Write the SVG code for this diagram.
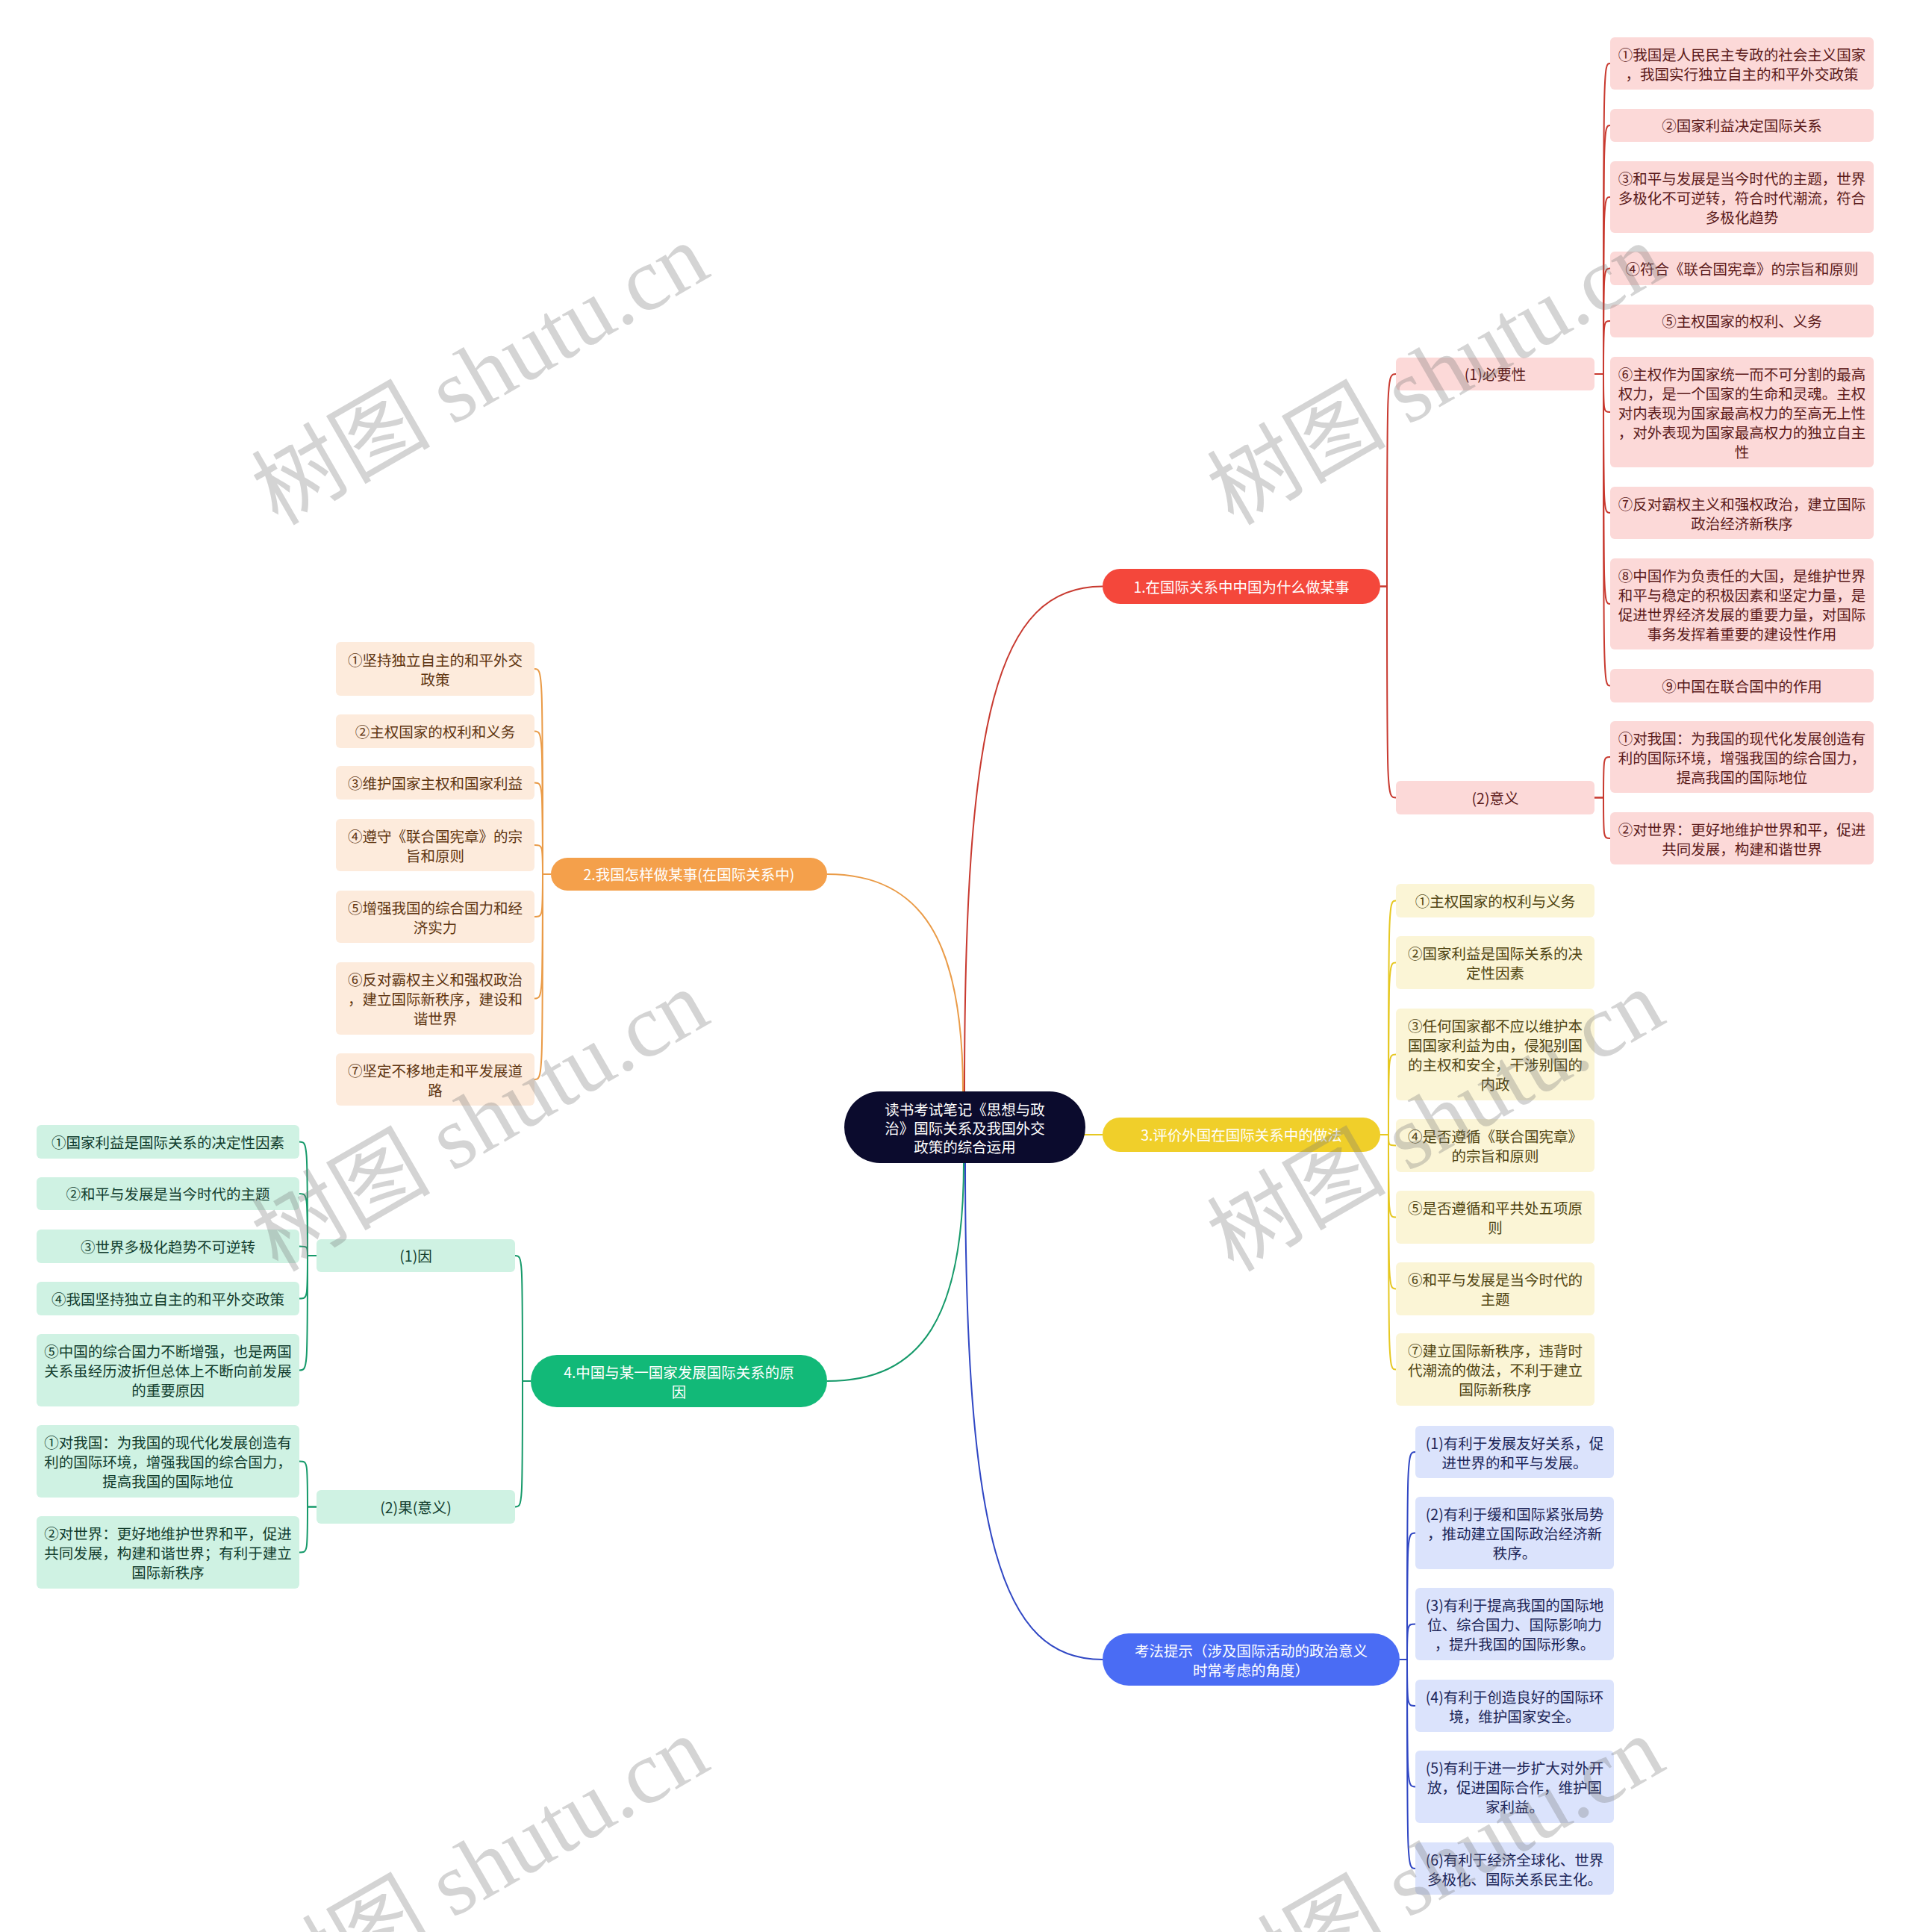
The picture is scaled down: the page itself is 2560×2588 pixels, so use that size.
<svg xmlns="http://www.w3.org/2000/svg" width="2560" height="2588" viewBox="0 0 2560 2588">
<style>
text { font-family: "Noto Sans CJK SC", "Noto Sans", sans-serif; font-size: 19.5px; text-anchor: middle; dominant-baseline: central; }
.conn path { fill: none; stroke-width: 2; }
.cr path { stroke: #c8392f; }
.co path { stroke: #ea9b47; }
.cy path { stroke: #e6c822; }
.cg path { stroke: #169a6a; }
.cb path { stroke: #3047c4; }
.topic text, .root text { fill: #ffffff; }
.pk rect { fill: #fcd9d8; } .pk text { fill: #5b1a1a; }
.or rect { fill: #fdebdc; } .or text { fill: #5e3511; }
.ye rect { fill: #fbf5d6; } .ye text { fill: #4f4412; }
.gr rect { fill: #cff2e3; } .gr text { fill: #123d2e; }
.bl rect { fill: #dbe3fc; } .bl text { fill: #1c2557; }
.wm { font-family: "Liberation Serif", "Noto Sans CJK SC", serif; font-size: 120px; fill: #7a7a7a; fill-opacity: 0.32; text-anchor: start; dominant-baseline: auto; }
</style>
<rect x="0" y="0" width="2560" height="2588" fill="#ffffff"/>

<g id="connectors" class="conn">
  <g class="cr">
    <path d="M1292 1462 C1292 960 1335 785.5 1477 785.5"/>
    <path d="M1849 785.5 H1858 C1858 501 1858 501 1870 501"/>
    <path d="M1849 785.5 H1858 C1858 1068.5 1858 1068.5 1870 1068.5"/>
    <path d="M2136 501 H2148 C2148 85 2148 85 2157 85"/>
    <path d="M2136 501 H2148 C2148 168 2148 168 2157 168"/>
    <path d="M2136 501 H2148 C2148 264 2148 264 2157 264"/>
    <path d="M2136 501 H2148 C2148 359.5 2148 359.5 2157 359.5"/>
    <path d="M2136 501 H2148 C2148 430 2148 430 2157 430"/>
    <path d="M2136 501 H2148 C2148 552 2148 552 2157 552"/>
    <path d="M2136 501 H2148 C2148 687 2148 687 2157 687"/>
    <path d="M2136 501 H2148 C2148 809 2148 809 2157 809"/>
    <path d="M2136 501 H2148 C2148 918.5 2148 918.5 2157 918.5"/>
    <path d="M2136 1068.5 H2148 C2148 1014 2148 1014 2157 1014"/>
    <path d="M2136 1068.5 H2148 C2148 1123 2148 1123 2157 1123"/>
  </g>
  <g class="co">
    <path d="M1290 1462 C1290 1260 1235 1171 1108 1171"/>
    <path d="M738 1171 H727 C727 896 727 896 716 896"/>
    <path d="M738 1171 H727 C727 979.5 727 979.5 716 979.5"/>
    <path d="M738 1171 H727 C727 1048.5 727 1048.5 716 1048.5"/>
    <path d="M738 1171 H727 C727 1132 727 1132 716 1132"/>
    <path d="M738 1171 H727 C727 1228 727 1228 716 1228"/>
    <path d="M738 1171 H727 C727 1337.5 727 1337.5 716 1337.5"/>
    <path d="M738 1171 H727 C727 1446 727 1446 716 1446"/>
  </g>
  <g class="cy">
    <path d="M1450 1520 H1477"/>
    <path d="M1849 1520 H1860 C1860 1206.5 1860 1206.5 1870 1206.5"/>
    <path d="M1849 1520 H1860 C1860 1289.5 1860 1289.5 1870 1289.5"/>
    <path d="M1849 1520 H1860 C1860 1412.5 1860 1412.5 1870 1412.5"/>
    <path d="M1849 1520 H1860 C1860 1534.5 1860 1534.5 1870 1534.5"/>
    <path d="M1849 1520 H1860 C1860 1630.5 1860 1630.5 1870 1630.5"/>
    <path d="M1849 1520 H1860 C1860 1726.5 1860 1726.5 1870 1726.5"/>
    <path d="M1849 1520 H1860 C1860 1834.5 1860 1834.5 1870 1834.5"/>
  </g>
  <g class="cg">
    <path d="M1291 1558 C1291 1765 1235 1850 1108 1850"/>
    <path d="M711 1850 H700 C700 1682 700 1682 690 1682"/>
    <path d="M711 1850 H700 C700 2018.5 700 2018.5 690 2018.5"/>
    <path d="M424 1682 H412 C412 1529.5 412 1529.5 401 1529.5"/>
    <path d="M424 1682 H412 C412 1599 412 1599 401 1599"/>
    <path d="M424 1682 H412 C412 1669.5 412 1669.5 401 1669.5"/>
    <path d="M424 1682 H412 C412 1739.5 412 1739.5 401 1739.5"/>
    <path d="M424 1682 H412 C412 1835.5 412 1835.5 401 1835.5"/>
    <path d="M424 2018.5 H412 C412 1957.5 412 1957.5 401 1957.5"/>
    <path d="M424 2018.5 H412 C412 2079.5 412 2079.5 401 2079.5"/>
  </g>
  <g class="cb">
    <path d="M1293 1558 C1293 2060 1340 2223 1477 2223"/>
    <path d="M1875 2223 H1885 C1885 1945 1885 1945 1896 1945"/>
    <path d="M1875 2223 H1885 C1885 2053.5 1885 2053.5 1896 2053.5"/>
    <path d="M1875 2223 H1885 C1885 2175.5 1885 2175.5 1896 2175.5"/>
    <path d="M1875 2223 H1885 C1885 2285 1885 2285 1896 2285"/>
    <path d="M1875 2223 H1885 C1885 2393.5 1885 2393.5 1896 2393.5"/>
    <path d="M1875 2223 H1885 C1885 2503 1885 2503 1896 2503"/>
  </g>
</g>

<g id="root" class="root">
  <rect x="1131" y="1462" width="323" height="96" rx="48" fill="#0b0b2d"/>
  <text><tspan x="1292.5" y="1485">读书考试笔记《思想与政</tspan><tspan x="1292.5" y="1510">治》国际关系及我国外交</tspan><tspan x="1292.5" y="1535">政策的综合运用</tspan></text>
</g>

<g id="t1" class="topic"><rect x="1477" y="762" width="372" height="47" rx="23.5" fill="#f4473b"/><text x="1663" y="785">1.在国际关系中中国为什么做某事</text></g>
<g id="t2" class="topic"><rect x="738" y="1149" width="370" height="44" rx="22" fill="#f4a04b"/><text x="923" y="1170.5">2.我国怎样做某事(在国际关系中)</text></g>
<g id="t3" class="topic"><rect x="1477" y="1497" width="372" height="46" rx="23" fill="#f0cf2a"/><text x="1663" y="1519.5">3.评价外国在国际关系中的做法</text></g>
<g id="t4" class="topic"><rect x="711" y="1815" width="397" height="70" rx="35" fill="#12b978"/><text><tspan x="909.5" y="1836.5">4.中国与某一国家发展国际关系的原</tspan><tspan x="909.5" y="1862.5">因</tspan></text></g>
<g id="t5" class="topic"><rect x="1477" y="2188" width="398" height="70" rx="35" fill="#4a6cf4"/><text><tspan x="1676" y="2209.5">考法提示（涉及国际活动的政治意义</tspan><tspan x="1676" y="2235.5">时常考虑的角度）</tspan></text></g>

<g id="s1a" class="pk"><rect x="1870" y="479" width="266" height="44" rx="6"/><text x="2003" y="500.5">(1)必要性</text></g>
<g id="s1b" class="pk"><rect x="1870" y="1046" width="266" height="45" rx="6"/><text x="2003" y="1068">(2)意义</text></g>

<g id="p1" class="pk"><rect x="2157" y="50" width="353" height="70" rx="6"/><text><tspan x="2333.5" y="71.5">①我国是人民民主专政的社会主义国家</tspan><tspan x="2333.5" y="97.5">，我国实行独立自主的和平外交政策</tspan></text></g>
<g id="p2" class="pk"><rect x="2157" y="146" width="353" height="44" rx="6"/><text x="2333.5" y="167.5">②国家利益决定国际关系</text></g>
<g id="p3" class="pk"><rect x="2157" y="216" width="353" height="96" rx="6"/><text><tspan x="2333.5" y="237.5">③和平与发展是当今时代的主题，世界</tspan><tspan x="2333.5" y="263.5">多极化不可逆转，符合时代潮流，符合</tspan><tspan x="2333.5" y="289.5">多极化趋势</tspan></text></g>
<g id="p4" class="pk"><rect x="2157" y="337" width="353" height="45" rx="6"/><text x="2333.5" y="359">④符合《联合国宪章》的宗旨和原则</text></g>
<g id="p5" class="pk"><rect x="2157" y="408" width="353" height="44" rx="6"/><text x="2333.5" y="429.5">⑤主权国家的权利、义务</text></g>
<g id="p6" class="pk"><rect x="2157" y="478" width="353" height="148" rx="6"/><text><tspan x="2333.5" y="499.5">⑥主权作为国家统一而不可分割的最高</tspan><tspan x="2333.5" y="525.5">权力，是一个国家的生命和灵魂。主权</tspan><tspan x="2333.5" y="551.5">对内表现为国家最高权力的至高无上性</tspan><tspan x="2333.5" y="577.5">，对外表现为国家最高权力的独立自主</tspan><tspan x="2333.5" y="603.5">性</tspan></text></g>
<g id="p7" class="pk"><rect x="2157" y="652" width="353" height="70" rx="6"/><text><tspan x="2333.5" y="673.5">⑦反对霸权主义和强权政治，建立国际</tspan><tspan x="2333.5" y="699.5">政治经济新秩序</tspan></text></g>
<g id="p8" class="pk"><rect x="2157" y="748" width="353" height="122" rx="6"/><text><tspan x="2333.5" y="769.5">⑧中国作为负责任的大国，是维护世界</tspan><tspan x="2333.5" y="795.5">和平与稳定的积极因素和坚定力量，是</tspan><tspan x="2333.5" y="821.5">促进世界经济发展的重要力量，对国际</tspan><tspan x="2333.5" y="847.5">事务发挥着重要的建设性作用</tspan></text></g>
<g id="p9" class="pk"><rect x="2157" y="896" width="353" height="45" rx="6"/><text x="2333.5" y="918">⑨中国在联合国中的作用</text></g>
<g id="q1" class="pk"><rect x="2157" y="966" width="353" height="96" rx="6"/><text><tspan x="2333.5" y="987.5">①对我国：为我国的现代化发展创造有</tspan><tspan x="2333.5" y="1013.5">利的国际环境，增强我国的综合国力，</tspan><tspan x="2333.5" y="1039.5">提高我国的国际地位</tspan></text></g>
<g id="q2" class="pk"><rect x="2157" y="1088" width="353" height="70" rx="6"/><text><tspan x="2333.5" y="1109.5">②对世界：更好地维护世界和平，促进</tspan><tspan x="2333.5" y="1135.5">共同发展，构建和谐世界</tspan></text></g>

<g id="o1" class="or"><rect x="450" y="860" width="266" height="72" rx="6"/><text><tspan x="583" y="882.5">①坚持独立自主的和平外交</tspan><tspan x="583" y="908.5">政策</tspan></text></g>
<g id="o2" class="or"><rect x="450" y="957" width="266" height="45" rx="6"/><text x="583" y="979">②主权国家的权利和义务</text></g>
<g id="o3" class="or"><rect x="450" y="1026" width="266" height="45" rx="6"/><text x="583" y="1048">③维护国家主权和国家利益</text></g>
<g id="o4" class="or"><rect x="450" y="1097" width="266" height="70" rx="6"/><text><tspan x="583" y="1118.5">④遵守《联合国宪章》的宗</tspan><tspan x="583" y="1144.5">旨和原则</tspan></text></g>
<g id="o5" class="or"><rect x="450" y="1193" width="266" height="70" rx="6"/><text><tspan x="583" y="1214.5">⑤增强我国的综合国力和经</tspan><tspan x="583" y="1240.5">济实力</tspan></text></g>
<g id="o6" class="or"><rect x="450" y="1289" width="266" height="97" rx="6"/><text><tspan x="583" y="1311">⑥反对霸权主义和强权政治</tspan><tspan x="583" y="1337">，建立国际新秩序，建设和</tspan><tspan x="583" y="1363">谐世界</tspan></text></g>
<g id="o7" class="or"><rect x="450" y="1411" width="266" height="70" rx="6"/><text><tspan x="583" y="1432.5">⑦坚定不移地走和平发展道</tspan><tspan x="583" y="1458.5">路</tspan></text></g>

<g id="y1" class="ye"><rect x="1870" y="1184" width="266" height="45" rx="6"/><text x="2003" y="1206">①主权国家的权利与义务</text></g>
<g id="y2" class="ye"><rect x="1870" y="1254" width="266" height="71" rx="6"/><text><tspan x="2003" y="1276">②国家利益是国际关系的决</tspan><tspan x="2003" y="1302">定性因素</tspan></text></g>
<g id="y3" class="ye"><rect x="1870" y="1351" width="266" height="123" rx="6"/><text><tspan x="2003" y="1373">③任何国家都不应以维护本</tspan><tspan x="2003" y="1399">国国家利益为由，侵犯别国</tspan><tspan x="2003" y="1425">的主权和安全，干涉别国的</tspan><tspan x="2003" y="1451">内政</tspan></text></g>
<g id="y4" class="ye"><rect x="1870" y="1499" width="266" height="71" rx="6"/><text><tspan x="2003" y="1521">④是否遵循《联合国宪章》</tspan><tspan x="2003" y="1547">的宗旨和原则</tspan></text></g>
<g id="y5" class="ye"><rect x="1870" y="1595" width="266" height="71" rx="6"/><text><tspan x="2003" y="1617">⑤是否遵循和平共处五项原</tspan><tspan x="2003" y="1643">则</tspan></text></g>
<g id="y6" class="ye"><rect x="1870" y="1691" width="266" height="71" rx="6"/><text><tspan x="2003" y="1713">⑥和平与发展是当今时代的</tspan><tspan x="2003" y="1739">主题</tspan></text></g>
<g id="y7" class="ye"><rect x="1870" y="1786" width="266" height="97" rx="6"/><text><tspan x="2003" y="1808">⑦建立国际新秩序，违背时</tspan><tspan x="2003" y="1834">代潮流的做法，不利于建立</tspan><tspan x="2003" y="1860">国际新秩序</tspan></text></g>

<g id="s4a" class="gr"><rect x="424" y="1660" width="266" height="44" rx="6"/><text x="557" y="1681.5">(1)因</text></g>
<g id="s4b" class="gr"><rect x="424" y="1996" width="266" height="45" rx="6"/><text x="557" y="2018">(2)果(意义)</text></g>

<g id="g1" class="gr"><rect x="49" y="1507" width="352" height="45" rx="6"/><text x="225" y="1529">①国家利益是国际关系的决定性因素</text></g>
<g id="g2" class="gr"><rect x="49" y="1577" width="352" height="44" rx="6"/><text x="225" y="1598.5">②和平与发展是当今时代的主题</text></g>
<g id="g3" class="gr"><rect x="49" y="1647" width="352" height="45" rx="6"/><text x="225" y="1669">③世界多极化趋势不可逆转</text></g>
<g id="g4" class="gr"><rect x="49" y="1717" width="352" height="45" rx="6"/><text x="225" y="1739">④我国坚持独立自主的和平外交政策</text></g>
<g id="g5" class="gr"><rect x="49" y="1787" width="352" height="97" rx="6"/><text><tspan x="225" y="1809">⑤中国的综合国力不断增强，也是两国</tspan><tspan x="225" y="1835">关系虽经历波折但总体上不断向前发展</tspan><tspan x="225" y="1861">的重要原因</tspan></text></g>
<g id="g6" class="gr"><rect x="49" y="1909" width="352" height="97" rx="6"/><text><tspan x="225" y="1931">①对我国：为我国的现代化发展创造有</tspan><tspan x="225" y="1957">利的国际环境，增强我国的综合国力，</tspan><tspan x="225" y="1983">提高我国的国际地位</tspan></text></g>
<g id="g7" class="gr"><rect x="49" y="2031" width="352" height="97" rx="6"/><text><tspan x="225" y="2053">②对世界：更好地维护世界和平，促进</tspan><tspan x="225" y="2079">共同发展，构建和谐世界；有利于建立</tspan><tspan x="225" y="2105">国际新秩序</tspan></text></g>

<g id="b1" class="bl"><rect x="1896" y="1910" width="266" height="70" rx="6"/><text><tspan x="2029" y="1931.5">(1)有利于发展友好关系，促</tspan><tspan x="2029" y="1957.5">进世界的和平与发展。</tspan></text></g>
<g id="b2" class="bl"><rect x="1896" y="2005" width="266" height="97" rx="6"/><text><tspan x="2029" y="2027">(2)有利于缓和国际紧张局势</tspan><tspan x="2029" y="2053">，推动建立国际政治经济新</tspan><tspan x="2029" y="2079">秩序。</tspan></text></g>
<g id="b3" class="bl"><rect x="1896" y="2127" width="266" height="97" rx="6"/><text><tspan x="2029" y="2149">(3)有利于提高我国的国际地</tspan><tspan x="2029" y="2175">位、综合国力、国际影响力</tspan><tspan x="2029" y="2201">，提升我国的国际形象。</tspan></text></g>
<g id="b4" class="bl"><rect x="1896" y="2250" width="266" height="70" rx="6"/><text><tspan x="2029" y="2271.5">(4)有利于创造良好的国际环</tspan><tspan x="2029" y="2297.5">境，维护国家安全。</tspan></text></g>
<g id="b5" class="bl"><rect x="1896" y="2345" width="266" height="97" rx="6"/><text><tspan x="2029" y="2367">(5)有利于进一步扩大对外开</tspan><tspan x="2029" y="2393">放，促进国际合作，维护国</tspan><tspan x="2029" y="2419">家利益。</tspan></text></g>
<g id="b6" class="bl"><rect x="1896" y="2468" width="266" height="70" rx="6"/><text><tspan x="2029" y="2489.5">(6)有利于经济全球化、世界</tspan><tspan x="2029" y="2515.5">多极化、国际关系民主化。</tspan></text></g>

<g id="watermarks">
  <text class="wm" transform="translate(372 705) rotate(-30)">树图 shutu.cn</text>
  <text class="wm" transform="translate(1652 705) rotate(-30)">树图 shutu.cn</text>
  <text class="wm" transform="translate(372 1705) rotate(-30)">树图 shutu.cn</text>
  <text class="wm" transform="translate(1652 1705) rotate(-30)">树图 shutu.cn</text>
  <text class="wm" transform="translate(372 2705) rotate(-30)">树图 shutu.cn</text>
  <text class="wm" transform="translate(1652 2705) rotate(-30)">树图 shutu.cn</text>
</g>
</svg>
